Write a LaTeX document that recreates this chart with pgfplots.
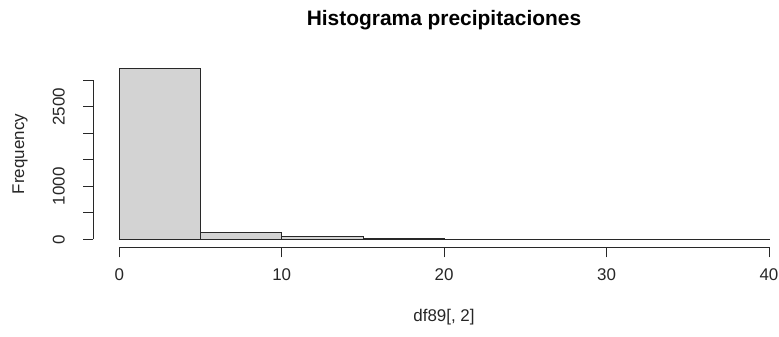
\documentclass[border=0pt]{standalone}
\usepackage{pgfplots}
\pgfplotsset{compat=1.18}
\usepackage{fontspec}
\setmainfont{Liberation Sans}
\definecolor{barfill}{RGB}{211,211,211}
\definecolor{axcol}{RGB}{40,40,40}
\begin{document}
\begin{tikzpicture}[x=1bp,y=1bp]
\path (0,0) rectangle (779,336);
\begin{axis}[
  scale only axis, width=685.7bp, height=185.8bp,
  at={(93.3bp,88.7bp)}, anchor=south west,
  xmin=-1.6, xmax=40.62, ymin=-150, ymax=3349,
  axis line style={draw=none},
  clip=false,
  tick align=outside, major tick length=10bp,
  tick style={axcol, line width=0.8bp},
  xtick pos=bottom, ytick pos=left,
  xtick={0,10,20,30,40}, xticklabels={0,10,20,30,40},
  ytick={0,500,1000,1500,2000,2500,3000},
  yticklabels={0,,1000,,,2500,},
  ticklabel style={font=\fontsize{17}{20}\selectfont, text=black!85},
  xticklabel style={anchor=north, yshift=-8bp},
  yticklabel style={xshift=-15bp, rotate=90, anchor=south},
]
\addplot[ybar interval, fill=barfill, draw=axcol, line width=0.8bp]
  coordinates {(0,3220) (5,124) (10,62) (15,19) (20,4) (25,2) (30,1) (35,1) (40,1)};
\draw[axcol, line width=0.8bp] (axis cs:0,-150) -- (axis cs:40,-150);
\draw[axcol, line width=0.8bp] (axis cs:-1.6,0) -- (axis cs:-1.6,3000);
\end{axis}
\node[anchor=base, font=\bfseries\fontsize{21}{24}\selectfont] at (444,311) {Histograma precipitaciones};
\node[anchor=base, font=\fontsize{17}{20}\selectfont, text=black!85] at (444,14.5) {df89[, 2]};
\node[anchor=base, rotate=90, font=\fontsize{17}{20}\selectfont, text=black!85] at (24,182) {Frequency};
\pgfresetboundingbox
\path (0,0) rectangle (779,336);
\end{tikzpicture}
\end{document}
